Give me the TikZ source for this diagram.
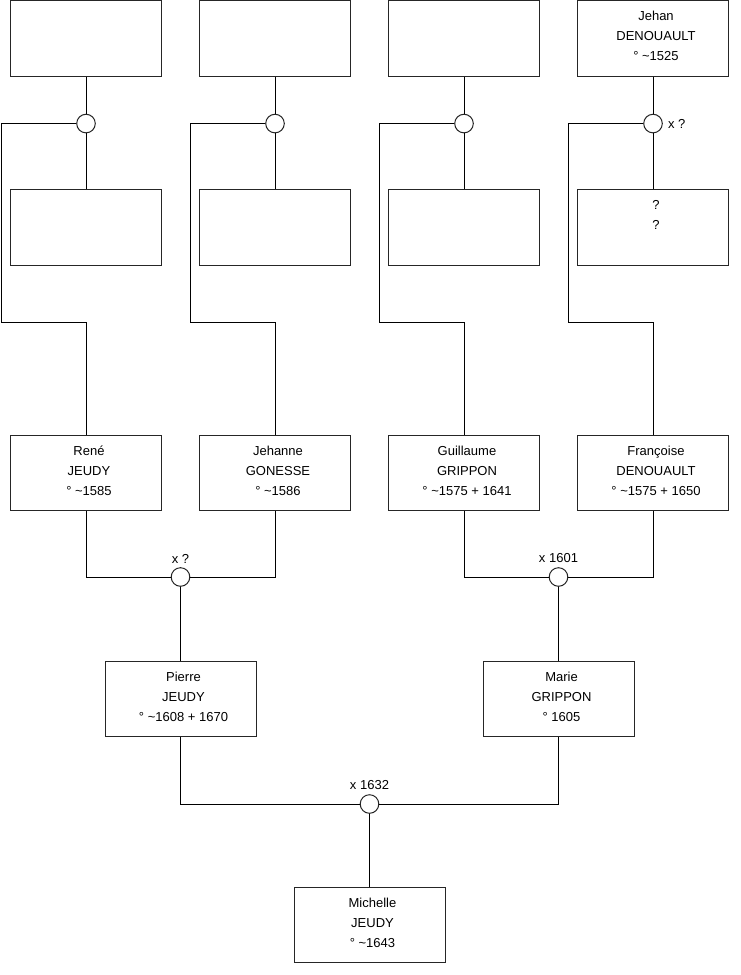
\documentclass[tikz,border=0pt]{standalone}
\usepackage{fontspec}
\setmainfont{Liberation Sans}
\usepackage{tikz}
\usetikzlibrary{positioning}
\tikzset{
  %%── person boxes ─────────────────────────────────────────
  pbox/.style = {
    rectangle, draw = black!85, line width = 1pt,
    minimum width = 151pt, minimum height = 75.5pt,
    inner sep = 0pt
  },
  ptext/.style = {
    align = center, inner sep = 0pt,
    font = \fontsize{13}{20}\selectfont
  },
  %%── marriage circles ─────────────────────────────────────
  union/.style = {
    circle, draw = black!85, fill = white, line width = 1pt,
    minimum size = 18.6pt, inner sep = 0pt
  },
  ulabel/.style = {inner sep = 0pt, font = \fontsize{13}{16}\selectfont},
  %%── connectors ───────────────────────────────────────────
  link/.style = {line width = 1pt, color = black},
}

\begin{document}
\begin{tikzpicture}[x = 1pt, y = -1pt]
  \useasboundingbox (0,0) rectangle (740,975);

  %% ── generation 4 (top) ───────────────────────────────
  \node[pbox] (a1) at (86,38.5) {};
  \node[pbox, right=37pt of a1] (a2) {};
  \node[pbox, right=37pt of a2] (a3) {};
  \node[pbox, right=37pt of a3] (a4) {};
  \node[ptext, below=11pt of a4.north, xshift=3pt] (a4t)
    {Jehan\\DENOUAULT\\° \textasciitilde1525};

  %% ── unions of generation 4 ───────────────────────────
  \node[union, below=37pt of a1] (u1) {};
  \node[union, below=37pt of a2] (u2) {};
  \node[union, below=37pt of a3] (u3) {};
  \node[union, below=37pt of a4] (u4) {};
  \node[ulabel, right=5pt of u4] (u4l) {x ?};

  %% ── spouses of generation 4 ──────────────────────────
  \node[pbox, below=112.5pt of a1] (b1) {};
  \node[pbox, below=112.5pt of a2] (b2) {};
  \node[pbox, below=112.5pt of a3] (b3) {};
  \node[pbox, below=112.5pt of a4] (b4) {};
  \node[ptext, below=11pt of b4.north, xshift=3pt] (b4t) {?\\?};

  %% ── generation 3 ─────────────────────────────────────
  \node[pbox] (c1) at (86,473) {};
  \node[pbox, right=37pt of c1] (c2) {};
  \node[pbox, right=37pt of c2] (c3) {};
  \node[pbox, right=37pt of c3] (c4) {};
  \node[ptext, below=11pt of c1.north, xshift=3pt] (c1t)
    {René\\JEUDY\\° \textasciitilde1585};
  \node[ptext, below=11pt of c2.north, xshift=3pt] (c2t)
    {Jehanne\\GONESSE\\° \textasciitilde1586};
  \node[ptext, below=11pt of c3.north, xshift=3pt] (c3t)
    {Guillaume\\GRIPPON\\° \textasciitilde1575 + 1641};
  \node[ptext, below=11pt of c4.north, xshift=3pt] (c4t)
    {Françoise\\DENOUAULT\\° \textasciitilde1575 + 1650};

  %% ── unions of generation 3 ───────────────────────────
  \node[union] (u5) at (180.5,577) {};
  \node[union] (u6) at (558.5,577) {};
  \node[ulabel, above=4pt of u5] (u5l) {x ?};
  \node[ulabel, above=4pt of u6] (u6l) {x 1601};

  %% ── generation 2 ─────────────────────────────────────
  \node[pbox] (d1) at (180.5,699) {};
  \node[pbox] (d2) at (558.5,699) {};
  \node[ptext, below=11pt of d1.north, xshift=3pt] (d1t)
    {Pierre\\JEUDY\\° \textasciitilde1608 + 1670};
  \node[ptext, below=11pt of d2.north, xshift=3pt] (d2t)
    {Marie\\GRIPPON\\° 1605};

  %% ── union of generation 2 ────────────────────────────
  \node[union] (u7) at (369.5,804) {};
  \node[ulabel, above=4pt of u7] (u7l) {x 1632};

  %% ── generation 1 ─────────────────────────────────────
  \node[pbox] (e1) at (369.5,925) {};
  \node[ptext, below=11pt of e1.north, xshift=3pt] (e1t)
    {Michelle\\JEUDY\\° \textasciitilde1643};

  %% ── bends of the child lines ─────────────────────────
  \coordinate (k1) at (1.5,322);
  \coordinate (k2) at (190.5,322);
  \coordinate (k3) at (379.5,322);
  \coordinate (k4) at (568.5,322);

  %% ── connectors ───────────────────────────────────────
  \draw[link] (a1) -- (u1);
  \draw[link] (a2) -- (u2);
  \draw[link] (a3) -- (u3);
  \draw[link] (a4) -- (u4);
  \draw[link] (u1) -- (b1);
  \draw[link] (u2) -- (b2);
  \draw[link] (u3) -- (b3);
  \draw[link] (u4) -- (b4);
  \draw[link] (u1.west) -| (k1) -| (c1.north);
  \draw[link] (u2.west) -| (k2) -| (c2.north);
  \draw[link] (u3.west) -| (k3) -| (c3.north);
  \draw[link] (u4.west) -| (k4) -| (c4.north);
  \draw[link] (c1.south) |- (u5.west);
  \draw[link] (c2.south) |- (u5.east);
  \draw[link] (c3.south) |- (u6.west);
  \draw[link] (c4.south) |- (u6.east);
  \draw[link] (u5) -- (d1);
  \draw[link] (u6) -- (d2);
  \draw[link] (d1.south) |- (u7.west);
  \draw[link] (d2.south) |- (u7.east);
  \draw[link] (u7) -- (e1);

\end{tikzpicture}
\end{document}
